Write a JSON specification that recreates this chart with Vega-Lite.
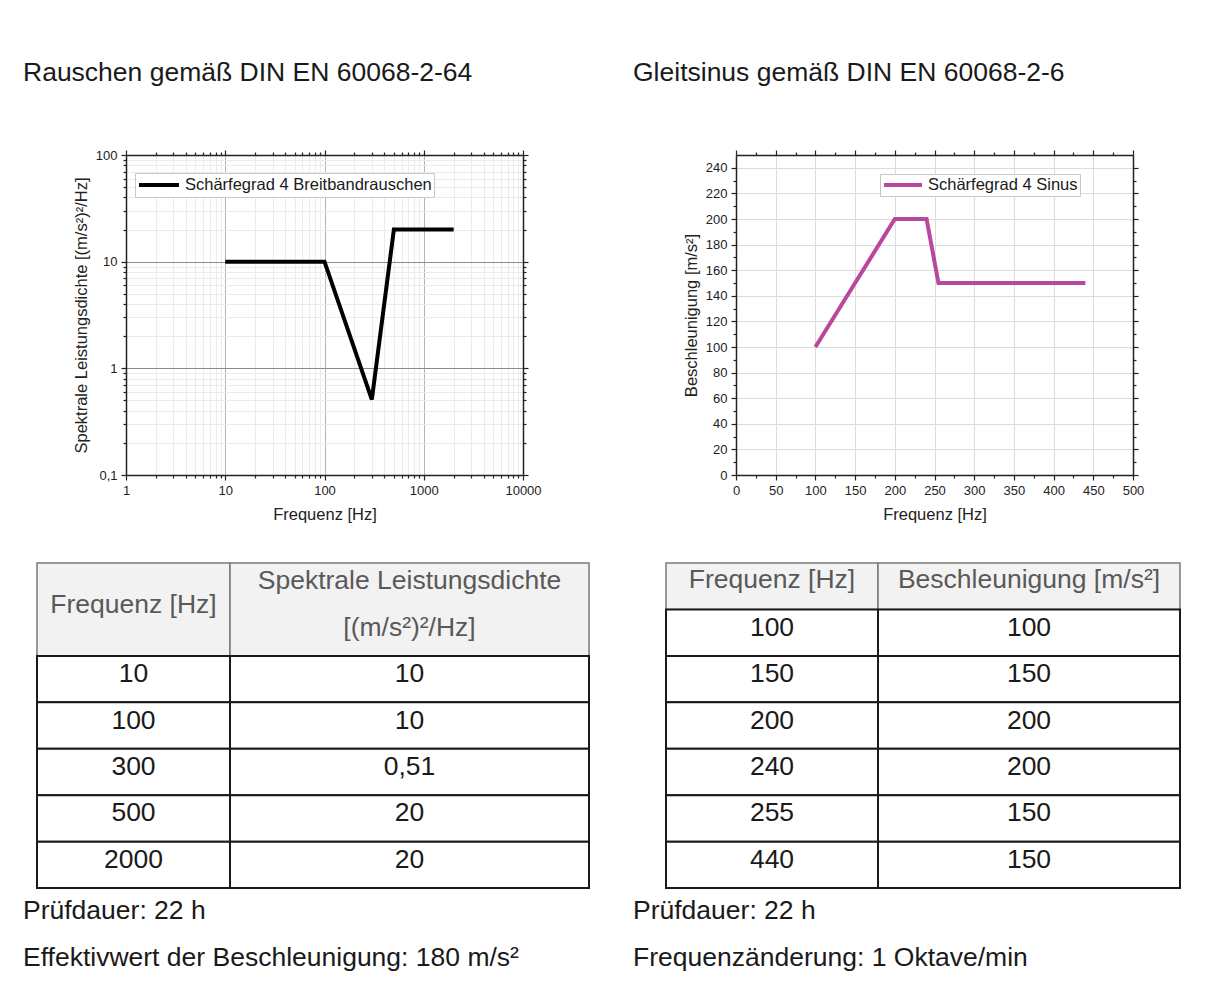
{
  "$schema": "https://vega.github.io/schema/vega-lite/v6.json",
  "padding": {"left": 23, "top": 59, "right": 30, "bottom": 0},
  "background": "white",
  "config": {
    "font": "Liberation Sans",
    "view": {"stroke": null},
    "locale": {"number": {"decimal": ",", "thousands": ".", "grouping": [3], "currency": ["", " €"]}},
    "axis": {"labelFont": "Liberation Sans", "titleFont": "Liberation Sans", "labelFontSize": 13, "titleFontSize": 16.5, "titleFontWeight": "normal", "labelColor": "#222222", "titleColor": "#222222", "domainColor": "#222222", "tickColor": "#222222", "domainWidth": 1.5, "tickWidth": 1.2, "labelFlush": false, "labelOverlap": false},
    "text": {"font": "Liberation Sans"}
  },
  "datasets": {
    "rauschen": [
      {"Frequenz": 10, "PSD": 10},
      {"Frequenz": 100, "PSD": 10},
      {"Frequenz": 300, "PSD": 0.51},
      {"Frequenz": 500, "PSD": 20},
      {"Frequenz": 2000, "PSD": 20}
    ],
    "sinus": [
      {"Frequenz": 100, "Beschleunigung": 100},
      {"Frequenz": 150, "Beschleunigung": 150},
      {"Frequenz": 200, "Beschleunigung": 200},
      {"Frequenz": 240, "Beschleunigung": 200},
      {"Frequenz": 255, "Beschleunigung": 150},
      {"Frequenz": 440, "Beschleunigung": 150}
    ]
  },
  "resolve": {"scale": {"color": "independent"}, "legend": {"color": "independent"}},
  "spacing": 43,
  "hconcat": [
    {
      "spacing": 39,
      "vconcat": [
        {
          "spacing": 0,
          "bounds": "flush",
          "hconcat": [
            {"width": 89, "height": 320, "data": {"values": []}, "mark": {"type": "point", "opacity": 0}},
            {
              "width": 397, "height": 320,
              "title": {"text": "Rauschen gemäß DIN EN 60068-2-64", "anchor": "start", "frame": "group", "dx": -103, "offset": 42, "baseline": "alphabetic", "font": "Liberation Sans", "fontSize": 26.5, "fontWeight": "normal", "color": "#1a1a1a"},
              "data": {"name": "rauschen"},
              "resolve": {"scale": {"x": "independent", "y": "independent"}, "axis": {"x": "independent", "y": "independent"}},
              "layer": [
                {
                  "mark": {"type": "line", "strokeWidth": 4, "clip": true},
                  "encoding": {
                    "x": {"field": "Frequenz", "type": "quantitative", "scale": {"type": "log", "domain": [1, 10000]}, "axis": {"orient": "bottom", "values": [1, 10, 100, 1000, 10000], "format": "d", "grid": true, "gridColor": "#b4b4b4", "tickSize": 5, "labelPadding": 4, "title": "Frequenz [Hz]", "titlePadding": 9}},
                    "y": {"field": "PSD", "type": "quantitative", "scale": {"type": "log", "domain": [0.1, 100]}, "axis": {"orient": "left", "values": [0.1, 1, 10, 100], "format": "~g", "grid": true, "gridColor": "#8c8c8c", "tickSize": 5, "labelPadding": 4, "title": "Spektrale Leistungsdichte [(m/s²)²/Hz]", "titlePadding": 6}},
                    "color": {"datum": "Schärfegrad 4 Breitbandrauschen", "type": "nominal", "scale": {"range": ["#000000"]}, "legend": {"orient": "none", "legendX": 98, "legendY": 18, "title": null, "symbolType": "stroke", "symbolSize": 1600, "symbolStrokeWidth": 4, "clipHeight": 20, "labelLimit": 400, "labelFontSize": 16.5, "labelFont": "Liberation Sans", "labelColor": "#1a1a1a", "strokeColor": "#c8c8c8", "fillColor": "white", "padding": 2, "labelOffset": 4}}
                  }
                },
                {
                  "mark": {"type": "line", "opacity": 0},
                  "encoding": {
                    "x": {"field": "Frequenz", "type": "quantitative", "scale": {"type": "log", "domain": [1, 10000]}, "axis": {"orient": "bottom", "values": [2, 3, 4, 5, 6, 7, 8, 9, 20, 30, 40, 50, 60, 70, 80, 90, 200, 300, 400, 500, 600, 700, 800, 900, 2000, 3000, 4000, 5000, 6000, 7000, 8000, 9000], "labels": false, "domain": false, "grid": true, "gridColor": "#ebebeb", "tickSize": 3, "title": null}},
                    "y": {"field": "PSD", "type": "quantitative", "scale": {"type": "log", "domain": [0.1, 100]}, "axis": {"orient": "left", "values": [0.2, 0.3, 0.4, 0.5, 0.6, 0.7, 0.8, 0.9, 2, 3, 4, 5, 6, 7, 8, 9, 20, 30, 40, 50, 60, 70, 80, 90], "labels": false, "domain": false, "grid": true, "gridColor": "#ebebeb", "tickSize": 3, "title": null}}
                  }
                },
                {
                  "mark": {"type": "line", "opacity": 0},
                  "encoding": {
                    "x": {"field": "Frequenz", "type": "quantitative", "scale": {"type": "log", "domain": [1, 10000]}, "axis": {"orient": "top", "values": [1, 10, 100, 1000, 10000], "labels": false, "grid": false, "tickSize": 5, "title": null}},
                    "y": {"field": "PSD", "type": "quantitative", "scale": {"type": "log", "domain": [0.1, 100]}, "axis": {"orient": "right", "values": [0.1, 1, 10, 100], "labels": false, "grid": false, "tickSize": 5, "title": null}}
                  }
                },
                {
                  "mark": {"type": "line", "opacity": 0},
                  "encoding": {
                    "x": {"field": "Frequenz", "type": "quantitative", "scale": {"type": "log", "domain": [1, 10000]}, "axis": {"orient": "top", "values": [2, 3, 4, 5, 6, 7, 8, 9, 20, 30, 40, 50, 60, 70, 80, 90, 200, 300, 400, 500, 600, 700, 800, 900, 2000, 3000, 4000, 5000, 6000, 7000, 8000, 9000], "labels": false, "domain": false, "grid": false, "tickSize": 3, "title": null}},
                    "y": {"field": "PSD", "type": "quantitative", "scale": {"type": "log", "domain": [0.1, 100]}, "axis": {"orient": "right", "values": [0.2, 0.3, 0.4, 0.5, 0.6, 0.7, 0.8, 0.9, 2, 3, 4, 5, 6, 7, 8, 9, 20, 30, 40, 50, 60, 70, 80, 90], "labels": false, "domain": false, "grid": false, "tickSize": 3, "title": null}}
                  }
                }
              ]
            }
          ]
        },
        {
          "spacing": 0,
          "bounds": "flush",
          "hconcat": [
            {
              "width": 193, "height": 418,
              "layer": [
                {
                  "data": {"values": [{"zeile": "Kopf1", "bis": "Kopf2"}]},
                  "mark": {"type": "rect", "fill": "#f2f2f2", "stroke": "#7a7a7a", "strokeWidth": 1.5},
                  "encoding": {
                    "y": {"field": "zeile", "type": "nominal", "bandPosition": 0, "scale": {"type": "band", "domain": ["Kopf1", "Kopf2", 10, 100, 300, 500, 2000, "Hinweis1", "Hinweis2"], "paddingInner": 0, "paddingOuter": 0}, "axis": null},
                    "y2": {"field": "bis", "bandPosition": 1}
                  }
                },
                {
                  "data": {"values": [{"zeile": "Kopf2", "text": "Frequenz [Hz]"}]},
                  "mark": {"type": "text", "fontSize": 26.5, "color": "#595959", "dy": -4},
                  "encoding": {
                    "y": {"field": "zeile", "type": "nominal", "bandPosition": 0, "scale": {"type": "band", "domain": ["Kopf1", "Kopf2", 10, 100, 300, 500, 2000, "Hinweis1", "Hinweis2"], "paddingInner": 0, "paddingOuter": 0}, "axis": null},
                    "text": {"field": "text"}
                  }
                },
                {
                  "data": {"name": "rauschen"},
                  "mark": {"type": "rect", "fill": "white", "stroke": "#1a1a1a", "strokeWidth": 2},
                  "encoding": {
                    "y": {"field": "Frequenz", "type": "nominal", "scale": {"type": "band", "domain": ["Kopf1", "Kopf2", 10, 100, 300, 500, 2000, "Hinweis1", "Hinweis2"], "paddingInner": 0, "paddingOuter": 0}, "axis": null}
                  }
                },
                {
                  "data": {"name": "rauschen"},
                  "mark": {"type": "text", "fontSize": 26.5, "color": "#1a1a1a", "dy": -5},
                  "encoding": {
                    "y": {"field": "Frequenz", "type": "nominal", "scale": {"type": "band", "domain": ["Kopf1", "Kopf2", 10, 100, 300, 500, 2000, "Hinweis1", "Hinweis2"], "paddingInner": 0, "paddingOuter": 0}, "axis": null},
                    "text": {"field": "Frequenz", "type": "nominal"}
                  }
                },
                {
                  "data": {"values": [{"zeile": "Hinweis1", "text": "Prüfdauer: 22 h"}, {"zeile": "Hinweis2", "text": "Effektivwert der Beschleunigung: 180 m/s²"}]},
                  "mark": {"type": "text", "fontSize": 26.5, "color": "#1a1a1a", "align": "left", "dx": -14},
                  "encoding": {
                    "y": {"field": "zeile", "type": "nominal", "scale": {"type": "band", "domain": ["Kopf1", "Kopf2", 10, 100, 300, 500, 2000, "Hinweis1", "Hinweis2"], "paddingInner": 0, "paddingOuter": 0}, "axis": null},
                    "x": {"value": 0},
                    "text": {"field": "text"}
                  }
                }
              ]
            },
            {
              "width": 359, "height": 418,
              "layer": [
                {
                  "data": {"values": [{"zeile": "Kopf1", "bis": "Kopf2"}]},
                  "mark": {"type": "rect", "fill": "#f2f2f2", "stroke": "#7a7a7a", "strokeWidth": 1.5},
                  "encoding": {
                    "y": {"field": "zeile", "type": "nominal", "bandPosition": 0, "scale": {"type": "band", "domain": ["Kopf1", "Kopf2", 10, 100, 300, 500, 2000, "Hinweis1", "Hinweis2"], "paddingInner": 0, "paddingOuter": 0}, "axis": null},
                    "y2": {"field": "bis", "bandPosition": 1}
                  }
                },
                {
                  "data": {"values": [{"zeile": "Kopf1", "text": "Spektrale Leistungsdichte"}, {"zeile": "Kopf2", "text": "[(m/s²)²/Hz]"}]},
                  "mark": {"type": "text", "fontSize": 26.5, "color": "#595959", "dy": -5},
                  "encoding": {
                    "y": {"field": "zeile", "type": "nominal", "scale": {"type": "band", "domain": ["Kopf1", "Kopf2", 10, 100, 300, 500, 2000, "Hinweis1", "Hinweis2"], "paddingInner": 0, "paddingOuter": 0}, "axis": null},
                    "text": {"field": "text"}
                  }
                },
                {
                  "data": {"name": "rauschen"},
                  "mark": {"type": "rect", "fill": "white", "stroke": "#1a1a1a", "strokeWidth": 2},
                  "encoding": {
                    "y": {"field": "Frequenz", "type": "nominal", "scale": {"type": "band", "domain": ["Kopf1", "Kopf2", 10, 100, 300, 500, 2000, "Hinweis1", "Hinweis2"], "paddingInner": 0, "paddingOuter": 0}, "axis": null}
                  }
                },
                {
                  "data": {"name": "rauschen"},
                  "mark": {"type": "text", "fontSize": 26.5, "color": "#1a1a1a", "dy": -5},
                  "encoding": {
                    "y": {"field": "Frequenz", "type": "nominal", "scale": {"type": "band", "domain": ["Kopf1", "Kopf2", 10, 100, 300, 500, 2000, "Hinweis1", "Hinweis2"], "paddingInner": 0, "paddingOuter": 0}, "axis": null},
                    "text": {"field": "PSD", "type": "quantitative", "format": "~g"}
                  }
                }
              ]
            }
          ]
        }
      ]
    },
    {
      "spacing": 39,
      "vconcat": [
        {
          "spacing": 0,
          "bounds": "flush",
          "hconcat": [
            {"width": 70, "height": 320, "data": {"values": []}, "mark": {"type": "point", "opacity": 0}},
            {
              "width": 397, "height": 320,
              "title": {"text": "Gleitsinus gemäß DIN EN 60068-2-6", "anchor": "start", "frame": "group", "dx": -103, "offset": 42, "baseline": "alphabetic", "font": "Liberation Sans", "fontSize": 26.5, "fontWeight": "normal", "color": "#1a1a1a"},
              "data": {"name": "sinus"},
              "resolve": {"scale": {"x": "independent", "y": "independent"}, "axis": {"x": "independent", "y": "independent"}},
              "layer": [
                {
                  "mark": {"type": "line", "strokeWidth": 4, "clip": true},
                  "encoding": {
                    "x": {"field": "Frequenz", "type": "quantitative", "scale": {"domain": [0, 500], "nice": false}, "axis": {"orient": "bottom", "values": [0, 50, 100, 150, 200, 250, 300, 350, 400, 450, 500], "format": "d", "grid": true, "gridColor": "#dcdcdc", "tickSize": 5, "labelPadding": 4, "title": "Frequenz [Hz]", "titlePadding": 9}},
                    "y": {"field": "Beschleunigung", "type": "quantitative", "scale": {"domain": [0, 250], "nice": false}, "axis": {"orient": "left", "values": [0, 20, 40, 60, 80, 100, 120, 140, 160, 180, 200, 220, 240], "format": "d", "grid": true, "gridColor": "#dcdcdc", "tickSize": 5, "labelPadding": 4, "title": "Beschleunigung [m/s²]", "titlePadding": 6}},
                    "color": {"datum": "Schärfegrad 4 Sinus", "type": "nominal", "scale": {"range": ["#b8479e"]}, "legend": {"orient": "none", "legendX": 214, "legendY": 19, "title": null, "symbolType": "stroke", "symbolSize": 1444, "symbolStrokeWidth": 4, "clipHeight": 18, "labelLimit": 400, "labelFontSize": 16.5, "labelFont": "Liberation Sans", "labelColor": "#1a1a1a", "strokeColor": "#c8c8c8", "fillColor": "white", "padding": 2, "labelOffset": 4}}
                  }
                },
                {
                  "mark": {"type": "line", "opacity": 0},
                  "encoding": {
                    "x": {"field": "Frequenz", "type": "quantitative", "scale": {"domain": [0, 500], "nice": false}, "axis": {"orient": "bottom", "values": [25, 75, 125, 175, 225, 275, 325, 375, 425, 475], "labels": false, "domain": false, "grid": false, "tickSize": 3, "title": null}},
                    "y": {"field": "Beschleunigung", "type": "quantitative", "scale": {"domain": [0, 250], "nice": false}, "axis": {"orient": "left", "values": [10, 30, 50, 70, 90, 110, 130, 150, 170, 190, 210, 230], "labels": false, "domain": false, "grid": false, "tickSize": 3, "title": null}}
                  }
                },
                {
                  "mark": {"type": "line", "opacity": 0},
                  "encoding": {
                    "x": {"field": "Frequenz", "type": "quantitative", "scale": {"domain": [0, 500], "nice": false}, "axis": {"orient": "top", "values": [0, 50, 100, 150, 200, 250, 300, 350, 400, 450, 500], "labels": false, "grid": false, "tickSize": 5, "title": null}},
                    "y": {"field": "Beschleunigung", "type": "quantitative", "scale": {"domain": [0, 250], "nice": false}, "axis": {"orient": "right", "values": [0, 20, 40, 60, 80, 100, 120, 140, 160, 180, 200, 220, 240], "labels": false, "grid": false, "tickSize": 5, "title": null}}
                  }
                },
                {
                  "mark": {"type": "line", "opacity": 0},
                  "encoding": {
                    "x": {"field": "Frequenz", "type": "quantitative", "scale": {"domain": [0, 500], "nice": false}, "axis": {"orient": "top", "values": [25, 75, 125, 175, 225, 275, 325, 375, 425, 475], "labels": false, "domain": false, "grid": false, "tickSize": 3, "title": null}},
                    "y": {"field": "Beschleunigung", "type": "quantitative", "scale": {"domain": [0, 250], "nice": false}, "axis": {"orient": "right", "values": [10, 30, 50, 70, 90, 110, 130, 150, 170, 190, 210, 230], "labels": false, "domain": false, "grid": false, "tickSize": 3, "title": null}}
                  }
                }
              ]
            }
          ]
        },
        {
          "spacing": 0,
          "bounds": "flush",
          "hconcat": [
            {
              "width": 212, "height": 418,
              "layer": [
                {
                  "data": {"values": [{"zeile": "Kopf"}]},
                  "mark": {"type": "rect", "fill": "#f2f2f2", "stroke": "#7a7a7a", "strokeWidth": 1.5},
                  "encoding": {
                    "y": {"field": "zeile", "type": "nominal", "scale": {"type": "band", "domain": ["Kopf", 100, 150, 200, 240, 255, 440, "Hinweis1", "Hinweis2"], "paddingInner": 0, "paddingOuter": 0}, "axis": null}
                  }
                },
                {
                  "data": {"values": [{"zeile": "Kopf", "text": "Frequenz [Hz]"}]},
                  "mark": {"type": "text", "fontSize": 26.5, "color": "#595959", "dy": -6},
                  "encoding": {
                    "y": {"field": "zeile", "type": "nominal", "scale": {"type": "band", "domain": ["Kopf", 100, 150, 200, 240, 255, 440, "Hinweis1", "Hinweis2"], "paddingInner": 0, "paddingOuter": 0}, "axis": null},
                    "text": {"field": "text"}
                  }
                },
                {
                  "data": {"name": "sinus"},
                  "mark": {"type": "rect", "fill": "white", "stroke": "#1a1a1a", "strokeWidth": 2},
                  "encoding": {
                    "y": {"field": "Frequenz", "type": "nominal", "scale": {"type": "band", "domain": ["Kopf", 100, 150, 200, 240, 255, 440, "Hinweis1", "Hinweis2"], "paddingInner": 0, "paddingOuter": 0}, "axis": null}
                  }
                },
                {
                  "data": {"name": "sinus"},
                  "mark": {"type": "text", "fontSize": 26.5, "color": "#1a1a1a", "dy": -5},
                  "encoding": {
                    "y": {"field": "Frequenz", "type": "nominal", "scale": {"type": "band", "domain": ["Kopf", 100, 150, 200, 240, 255, 440, "Hinweis1", "Hinweis2"], "paddingInner": 0, "paddingOuter": 0}, "axis": null},
                    "text": {"field": "Frequenz", "type": "nominal"}
                  }
                },
                {
                  "data": {"values": [{"zeile": "Hinweis1", "text": "Prüfdauer: 22 h"}, {"zeile": "Hinweis2", "text": "Frequenzänderung: 1 Oktave/min"}]},
                  "mark": {"type": "text", "fontSize": 26.5, "color": "#1a1a1a", "align": "left", "dx": -33},
                  "encoding": {
                    "y": {"field": "zeile", "type": "nominal", "scale": {"type": "band", "domain": ["Kopf", 100, 150, 200, 240, 255, 440, "Hinweis1", "Hinweis2"], "paddingInner": 0, "paddingOuter": 0}, "axis": null},
                    "x": {"value": 0},
                    "text": {"field": "text"}
                  }
                }
              ]
            },
            {
              "width": 302, "height": 418,
              "layer": [
                {
                  "data": {"values": [{"zeile": "Kopf"}]},
                  "mark": {"type": "rect", "fill": "#f2f2f2", "stroke": "#7a7a7a", "strokeWidth": 1.5},
                  "encoding": {
                    "y": {"field": "zeile", "type": "nominal", "scale": {"type": "band", "domain": ["Kopf", 100, 150, 200, 240, 255, 440, "Hinweis1", "Hinweis2"], "paddingInner": 0, "paddingOuter": 0}, "axis": null}
                  }
                },
                {
                  "data": {"values": [{"zeile": "Kopf", "text": "Beschleunigung [m/s²]"}]},
                  "mark": {"type": "text", "fontSize": 26.5, "color": "#595959", "dy": -6},
                  "encoding": {
                    "y": {"field": "zeile", "type": "nominal", "scale": {"type": "band", "domain": ["Kopf", 100, 150, 200, 240, 255, 440, "Hinweis1", "Hinweis2"], "paddingInner": 0, "paddingOuter": 0}, "axis": null},
                    "text": {"field": "text"}
                  }
                },
                {
                  "data": {"name": "sinus"},
                  "mark": {"type": "rect", "fill": "white", "stroke": "#1a1a1a", "strokeWidth": 2},
                  "encoding": {
                    "y": {"field": "Frequenz", "type": "nominal", "scale": {"type": "band", "domain": ["Kopf", 100, 150, 200, 240, 255, 440, "Hinweis1", "Hinweis2"], "paddingInner": 0, "paddingOuter": 0}, "axis": null}
                  }
                },
                {
                  "data": {"name": "sinus"},
                  "mark": {"type": "text", "fontSize": 26.5, "color": "#1a1a1a", "dy": -5},
                  "encoding": {
                    "y": {"field": "Frequenz", "type": "nominal", "scale": {"type": "band", "domain": ["Kopf", 100, 150, 200, 240, 255, 440, "Hinweis1", "Hinweis2"], "paddingInner": 0, "paddingOuter": 0}, "axis": null},
                    "text": {"field": "Beschleunigung", "type": "nominal"}
                  }
                }
              ]
            }
          ]
        }
      ]
    }
  ]
}
